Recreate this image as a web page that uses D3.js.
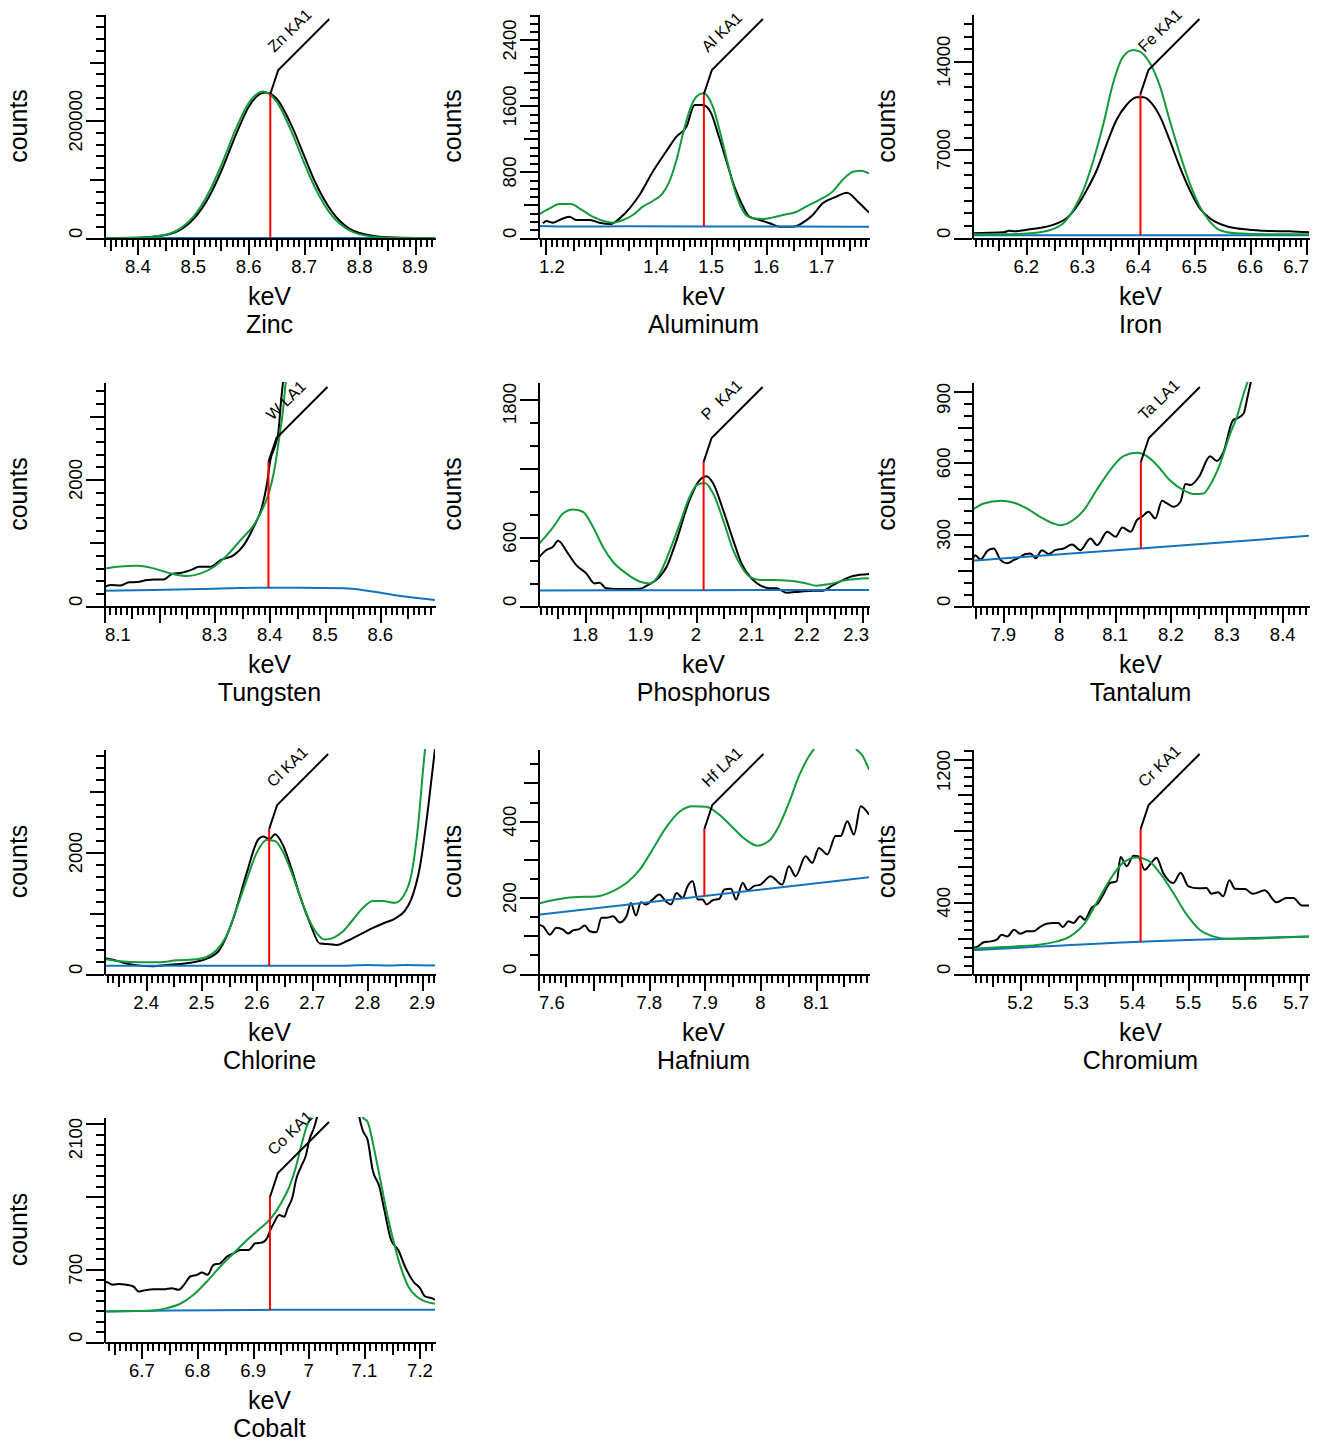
<!DOCTYPE html>
<html>
<head>
<meta charset="utf-8">
<script src="https://cdn.jsdelivr.net/npm/d3@7"></script>
<style>
  body { margin: 0; background: #fff; }
  svg text { font-family: "Liberation Sans", Arial, sans-serif; fill: #000; white-space: pre; }
</style>
</head>
<body>
<svg id="chart" width="1326" height="1452"></svg>
<script>
// EDS peak fits, one panel per element

const elements = ["Zinc", "Aluminum", "Iron", "Tungsten", "Phosphorus", "Tantalum",
  "Chlorine", "Hafnium", "Chromium", "Cobalt"];
const lineLabels = ["Zn KA1", "Al KA1", "Fe KA1", "W LA1", "P  KA1", "Ta LA1",
  "Cl KA1", "Hf LA1", "Cr KA1", "Co KA1"];
const lineEnergies = [8.6389, 1.4867, 6.4039, 8.3976, 2.0137, 8.1461, 2.6224, 7.899, 5.4147, 6.9303];

// axis ranges
const keVRanges = [[8.339, 8.936], [1.186, 1.786], [6.103, 6.705], [8.1, 8.699], [1.715, 2.312],
  [7.844, 8.447], [2.324, 2.922], [7.6, 8.195], [5.114, 5.715], [6.632, 7.227]];
const countMax = [382000, 2715, 17750, 3542, 1954, 939, 3708, 589, 1256, 2164];
const yMajorSteps = [200000, 800, 7000, 2000, 600, 300, 2000, 200, 400, 700];
const yMinorSteps = [20000, 100, 1000, 200, 200, 50, 200, 50, 50, 100];

// tick labels
const xTickLabels = [
  [8.4, 8.5, 8.6, 8.7, 8.8, 8.9], [1.2, 1.4, 1.5, 1.6, 1.7], [6.2, 6.3, 6.4, 6.5, 6.6, 6.7],
  [8.1, 8.3, 8.4, 8.5, 8.6], [1.8, 1.9, 2, 2.1, 2.2, 2.3], [7.9, 8, 8.1, 8.2, 8.3, 8.4],
  [2.4, 2.5, 2.6, 2.7, 2.8, 2.9], [7.6, 7.8, 7.9, 8, 8.1], [5.2, 5.3, 5.4, 5.5, 5.6, 5.7],
  [6.7, 6.8, 6.9, 7, 7.1, 7.2]];
const yTickLabels = [[0, 200000], [0, 800, 1600, 2400], [0, 7000, 14000], [0, 2000], [0, 600, 1800],
  [0, 300, 600, 900], [0, 2000], [0, 200, 400], [0, 400, 1200], [0, 700, 2100]];

// [keV, counts]
const znMeasured = [[8.339, 0], [8.4, 600], [8.45, 5000], [8.48, 16000], [8.5, 32000], [8.53, 73000],
  [8.55, 113000], [8.58, 183000], [8.6, 224000], [8.63, 248000], [8.65, 238000], [8.68, 186000],
  [8.7, 140000], [8.72, 95000], [8.75, 45000], [8.78, 17000], [8.8, 8500], [8.85, 1200], [8.9, 0], [8.936, 0]];
const znFit = [[8.339, 0], [8.4, 500], [8.45, 5700], [8.48, 18500], [8.5, 36000], [8.53, 81000],
  [8.55, 123000], [8.58, 193000], [8.6, 230000], [8.626, 250000], [8.65, 233000], [8.68, 175000],
  [8.7, 128000], [8.72, 85000], [8.75, 38000], [8.78, 13800], [8.8, 6200], [8.85, 600], [8.9, 0], [8.936, 0]];
const znBackground = [[8.339, 0], [8.936, 0]];

const alMeasured = [[1.195, 178], [1.201, 206], [1.213, 186], [1.225, 218], [1.243, 259], [1.255, 218],
  [1.279, 218], [1.297, 186], [1.319, 170], [1.334, 238], [1.352, 360], [1.37, 521], [1.394, 804],
  [1.418, 1046], [1.437, 1228], [1.455, 1349], [1.47, 1612], [1.485, 1612], [1.5, 1511], [1.512, 1269],
  [1.527, 945], [1.542, 622], [1.555, 420], [1.569, 259], [1.588, 218], [1.606, 178], [1.624, 137],
  [1.648, 137], [1.666, 186], [1.684, 279], [1.702, 420], [1.727, 501], [1.746, 549], [1.766, 440], [1.786, 307]];
const alFit = [[1.186, 279], [1.207, 360], [1.225, 412], [1.246, 412], [1.261, 360], [1.285, 259],
  [1.31, 198], [1.322, 186], [1.34, 218], [1.358, 279], [1.376, 380], [1.394, 448], [1.412, 541],
  [1.424, 683], [1.437, 945], [1.449, 1269], [1.461, 1551], [1.473, 1713], [1.485, 1753], [1.494, 1713],
  [1.503, 1592], [1.515, 1309], [1.527, 986], [1.539, 663], [1.551, 420], [1.563, 279], [1.576, 238],
  [1.594, 230], [1.612, 250], [1.636, 287], [1.654, 315], [1.672, 380], [1.696, 461], [1.72, 562],
  [1.738, 703], [1.757, 804], [1.772, 816], [1.786, 784]];
const alBackground = [[1.186, 145], [1.25, 138], [1.35, 142], [1.5, 140], [1.65, 138], [1.786, 135]];

const feMeasured = [[6.103, 370], [6.16, 449], [6.169, 581], [6.18, 530], [6.207, 687], [6.231, 845],
  [6.255, 1162], [6.272, 1559], [6.29, 2483], [6.308, 3804], [6.326, 5390], [6.344, 7503], [6.361, 9353],
  [6.379, 10542], [6.397, 11149], [6.409, 11149], [6.424, 10674], [6.439, 9617], [6.456, 7767],
  [6.474, 5654], [6.492, 3804], [6.51, 2351], [6.528, 1559], [6.551, 1030], [6.575, 766], [6.605, 634],
  [6.634, 555], [6.67, 528], [6.705, 449]];
const feFit = [[6.103, 290], [6.16, 290], [6.207, 370], [6.243, 634], [6.266, 1162], [6.284, 2219],
  [6.302, 3804], [6.32, 6182], [6.338, 9088], [6.355, 12259], [6.373, 14372], [6.391, 14900],
  [6.403, 14770], [6.421, 13844], [6.439, 11995], [6.456, 9353], [6.474, 6711], [6.492, 4333],
  [6.51, 2484], [6.528, 1295], [6.545, 634], [6.575, 370], [6.634, 290], [6.705, 290]];
const feBackground = [[6.103, 211], [6.705, 211]];

const wMeasured = [[8.1, 295], [8.112, 332], [8.13, 326], [8.145, 374], [8.16, 379], [8.178, 411],
  [8.19, 421], [8.208, 421], [8.223, 505], [8.241, 526], [8.26, 579], [8.272, 621], [8.293, 621],
  [8.311, 726], [8.335, 805], [8.353, 963], [8.371, 1253], [8.386, 1568], [8.395, 1937], [8.401, 2305],
  [8.41, 2542], [8.416, 2779], [8.42, 3200], [8.424, 3542], [8.43, 3900]];
const wFit = [[8.1, 589], [8.124, 621], [8.16, 637], [8.19, 595], [8.22, 516], [8.251, 474], [8.275, 516],
  [8.299, 621], [8.323, 805], [8.347, 1042], [8.371, 1279], [8.386, 1516], [8.398, 1779], [8.407, 2095],
  [8.413, 2410], [8.419, 2779], [8.424, 3095], [8.428, 3463], [8.435, 3900]];
const wBackground = [[8.1, 242], [8.19, 253], [8.275, 268], [8.371, 289], [8.455, 289], [8.534, 279],
  [8.576, 242], [8.636, 158], [8.699, 95]];

const pMeasured = [[1.715, 415], [1.73, 488], [1.742, 517], [1.751, 569], [1.769, 459], [1.784, 357],
  [1.802, 285], [1.817, 197], [1.826, 203], [1.838, 154], [1.856, 148], [1.88, 148], [1.899, 151],
  [1.913, 183], [1.928, 226], [1.947, 343], [1.965, 575], [1.986, 894], [2.004, 1083], [2.019, 1132],
  [2.031, 1068], [2.049, 836], [2.067, 575], [2.082, 372], [2.1, 241], [2.115, 183], [2.133, 154],
  [2.145, 154], [2.163, 116], [2.187, 125], [2.211, 134], [2.229, 134], [2.247, 183], [2.265, 226],
  [2.283, 261], [2.312, 279]];
const pFit = [[1.715, 531], [1.73, 613], [1.745, 705], [1.76, 807], [1.778, 842], [1.796, 822],
  [1.814, 691], [1.832, 517], [1.85, 386], [1.874, 285], [1.899, 212], [1.917, 197], [1.935, 285],
  [1.953, 488], [1.971, 720], [1.986, 923], [2.001, 1054], [2.016, 1074], [2.031, 981], [2.049, 749],
  [2.067, 488], [2.082, 343], [2.097, 255], [2.115, 226], [2.139, 226], [2.169, 221], [2.199, 197],
  [2.217, 177], [2.241, 192], [2.271, 226], [2.312, 241]];
const pBackground = [[1.715, 135], [2.0, 138], [2.312, 139]];

const taMeasured = [[7.844, 188], [7.85, 213], [7.859, 195], [7.872, 232], [7.883, 241], [7.895, 193],
  [7.907, 179], [7.919, 193], [7.931, 206], [7.94, 218], [7.949, 220], [7.958, 200], [7.969, 234],
  [7.981, 218], [7.993, 234], [8.008, 241], [8.023, 258], [8.038, 234], [8.056, 283], [8.068, 255],
  [8.086, 311], [8.101, 290], [8.113, 329], [8.128, 311], [8.139, 360], [8.148, 374], [8.16, 395],
  [8.172, 367], [8.184, 441], [8.193, 430], [8.205, 416], [8.217, 437], [8.226, 511], [8.235, 507],
  [8.25, 541], [8.27, 628], [8.282, 608], [8.294, 646], [8.311, 779], [8.318, 786], [8.33, 807],
  [8.337, 876], [8.343, 939], [8.35, 1000]];
const taFit = [[7.844, 402], [7.865, 430], [7.895, 441], [7.919, 433], [7.942, 409], [7.966, 374],
  [7.99, 346], [8.002, 339], [8.02, 353], [8.044, 402], [8.067, 486], [8.091, 569], [8.115, 628],
  [8.139, 642], [8.157, 628], [8.175, 590], [8.198, 527], [8.222, 486], [8.243, 469], [8.258, 472],
  [8.27, 507], [8.288, 597], [8.306, 723], [8.318, 793], [8.33, 890], [8.337, 939], [8.345, 1000]];
const taBackground = [[7.844, 190], [8.145, 241], [8.447, 294]];

const clMeasured = [[2.324, 264], [2.34, 237], [2.365, 171], [2.389, 138], [2.413, 127], [2.437, 149],
  [2.461, 165], [2.485, 193], [2.509, 248], [2.533, 402], [2.557, 898], [2.582, 1670], [2.603, 2221],
  [2.612, 2265], [2.623, 2221], [2.633, 2303], [2.648, 2110], [2.663, 1725], [2.678, 1284], [2.696, 843],
  [2.714, 501], [2.732, 490], [2.744, 479], [2.762, 540], [2.786, 650], [2.81, 760], [2.828, 832],
  [2.852, 926], [2.867, 1036], [2.879, 1229], [2.895, 1780], [2.91, 2772], [2.922, 3708]];
const clFit = [[2.324, 248], [2.353, 209], [2.389, 193], [2.425, 193], [2.455, 226], [2.485, 237],
  [2.509, 281], [2.527, 391], [2.545, 623], [2.563, 1063], [2.582, 1559], [2.6, 2000], [2.618, 2209],
  [2.633, 2193], [2.648, 2000], [2.663, 1670], [2.678, 1284], [2.693, 926], [2.708, 678], [2.723, 568],
  [2.738, 595], [2.756, 705], [2.774, 898], [2.792, 1091], [2.81, 1201], [2.828, 1201], [2.85, 1174],
  [2.865, 1284], [2.88, 1670], [2.892, 2496], [2.9, 3323], [2.904, 3708], [2.91, 4200]];
const clBackground = [[2.324, 138], [2.76, 138], [2.8, 150], [2.84, 142], [2.87, 150], [2.922, 140]];

const hfMeasured = [[7.6, 129], [7.609, 125], [7.621, 103], [7.633, 121], [7.645, 116], [7.654, 106],
  [7.663, 114], [7.675, 118], [7.684, 127], [7.693, 112], [7.705, 109], [7.714, 147], [7.723, 147],
  [7.735, 151], [7.747, 135], [7.759, 151], [7.767, 186], [7.776, 153], [7.785, 188], [7.794, 182],
  [7.806, 195], [7.818, 208], [7.83, 190], [7.839, 182], [7.849, 212], [7.86, 199], [7.869, 230],
  [7.878, 243], [7.887, 195], [7.896, 195], [7.903, 182], [7.914, 193], [7.926, 197], [7.935, 221],
  [7.947, 223], [7.956, 195], [7.968, 238], [7.977, 219], [7.988, 230], [8.0, 234], [8.018, 256],
  [8.039, 234], [8.051, 282], [8.063, 256], [8.081, 308], [8.093, 291], [8.105, 330], [8.12, 313],
  [8.135, 361], [8.144, 361], [8.156, 400], [8.168, 365], [8.18, 439], [8.195, 417]];
const hfFit = [[7.6, 184], [7.633, 195], [7.663, 201], [7.705, 203], [7.735, 217], [7.759, 238],
  [7.783, 273], [7.806, 326], [7.83, 383], [7.854, 424], [7.878, 439], [7.902, 438], [7.926, 417],
  [7.949, 385], [7.973, 352], [7.994, 336], [8.015, 348], [8.033, 387], [8.051, 448], [8.069, 518],
  [8.087, 570], [8.096, 589], [8.12, 660], [8.135, 670], [8.15, 650], [8.172, 589], [8.184, 570], [8.195, 535]];
const hfBackground = [[7.6, 155], [8.195, 253]];

const crMeasured = [[5.114, 145], [5.123, 151], [5.135, 177], [5.147, 182], [5.158, 192], [5.167, 219],
  [5.177, 210], [5.189, 247], [5.2, 225], [5.212, 238], [5.223, 238], [5.235, 262], [5.247, 281],
  [5.259, 285], [5.268, 285], [5.276, 262], [5.286, 294], [5.295, 285], [5.307, 322], [5.315, 303],
  [5.327, 368], [5.339, 396], [5.348, 443], [5.36, 508], [5.372, 517], [5.379, 653], [5.39, 602],
  [5.402, 660], [5.41, 657], [5.422, 582], [5.434, 621], [5.443, 649], [5.455, 564], [5.473, 508],
  [5.486, 565], [5.5, 489], [5.517, 478], [5.532, 480], [5.541, 448], [5.553, 456], [5.562, 433],
  [5.573, 523], [5.583, 476], [5.601, 474], [5.615, 448], [5.636, 467], [5.657, 400], [5.675, 424],
  [5.687, 424], [5.702, 383], [5.715, 383]];
const crFit = [[5.114, 140], [5.17, 151], [5.23, 162], [5.265, 182], [5.289, 210], [5.313, 275],
  [5.336, 396], [5.36, 526], [5.384, 623], [5.408, 651], [5.428, 634], [5.449, 564], [5.473, 452],
  [5.497, 331], [5.52, 247], [5.544, 210], [5.568, 197], [5.615, 197], [5.645, 201], [5.715, 210]];
const crBackground = [[5.114, 132], [5.414, 180], [5.715, 209]];

const coMeasured = [[6.632, 582], [6.639, 572], [6.648, 550], [6.66, 559], [6.672, 550], [6.685, 534],
  [6.694, 486], [6.703, 495], [6.721, 508], [6.739, 508], [6.754, 518], [6.766, 502], [6.778, 566],
  [6.787, 630], [6.799, 646], [6.808, 668], [6.818, 646], [6.829, 742], [6.841, 757], [6.853, 821],
  [6.865, 853], [6.877, 885], [6.892, 885], [6.904, 949], [6.916, 956], [6.925, 997], [6.931, 1077],
  [6.937, 1141], [6.947, 1221], [6.956, 1205], [6.962, 1285], [6.971, 1397], [6.977, 1556], [6.986, 1684],
  [6.995, 1796], [7.001, 1940], [7.01, 2068], [7.015, 2164], [7.04, 3000], [7.06, 3100], [7.08, 2700],
  [7.091, 2164], [7.097, 2036], [7.106, 1940], [7.115, 1652], [7.127, 1493], [7.136, 1269], [7.148, 981],
  [7.161, 885], [7.173, 726], [7.188, 582], [7.2, 518], [7.209, 438], [7.221, 422], [7.227, 406]];
const coFit = [[6.632, 294], [6.685, 297], [6.721, 304], [6.745, 326], [6.769, 368], [6.793, 454],
  [6.817, 582], [6.841, 726], [6.865, 853], [6.889, 981], [6.913, 1093], [6.932, 1189], [6.95, 1333],
  [6.965, 1493], [6.977, 1684], [6.986, 1876], [6.995, 2052], [7.003, 2164], [7.03, 2900], [7.05, 3200],
  [7.07, 2900], [7.097, 2164], [7.106, 2116], [7.118, 1844], [7.13, 1524], [7.142, 1205], [7.155, 917],
  [7.167, 694], [7.179, 534], [7.194, 438], [7.209, 390], [7.227, 368]];
const coBackground = [[6.632, 294], [6.75, 304], [6.94, 310], [7.227, 310]];

const measured = [znMeasured, alMeasured, feMeasured, wMeasured, pMeasured, taMeasured,
  clMeasured, hfMeasured, crMeasured, coMeasured];
const fits = [znFit, alFit, feFit, wFit, pFit, taFit, clFit, hfFit, crFit, coFit];
const backgrounds = [znBackground, alBackground, feBackground, wBackground, pBackground,
  taBackground, clBackground, hfBackground, crBackground, coBackground];

// Page layout
const colLeft = [104, 538, 972];
const colWidth = [331, 331, 337];
const rowTop = [14, 382, 749, 1117];
const rowBottom = [238, 606, 974, 1342];

const colors = { measured: "#000000", fit: "#139a3b", background: "#1273bd", marker: "#ff0000" };

const svg = d3.select("#chart");

elements.forEach((name, i) => renderPanel(svg, i));

// linear lookup inside a series
function valueAt(series, e) {
  const i = d3.bisector(d => d[0]).left(series, e);
  if (i <= 0) return series[0][1];
  if (i >= series.length) return series[series.length - 1][1];
  const a = series[i - 1], b = series[i];
  return a[1] + (b[1] - a[1]) * (e - a[0]) / (b[0] - a[0]);
}

function renderPanel(svg, i) {
  const col = i % 3, row = Math.floor(i / 3);
  const x0 = colLeft[col], x1 = x0 + colWidth[col];
  const yTop = rowTop[row], yBot = rowBottom[row];
  const dom = keVRanges[i];

  const x = d3.scaleLinear().domain(dom).range([x0, x1]);
  const y = d3.scaleLinear().domain([0, countMax[i]]).range([yBot, yTop]);

  const g = svg.append("g").attr("class", "panel");

  g.append("clipPath").attr("id", "clip" + i)
    .append("rect")
    .attr("x", x0).attr("y", yTop)
    .attr("width", x1 - x0).attr("height", yBot - yTop);

  const line = d3.line()
    .x(d => x(d[0]))
    .y(d => y(d[1]))
    .curve(d3.curveMonotoneX);

  const plot = g.append("g").attr("clip-path", `url(#clip${i})`);

  plot.append("path").datum(measured[i])
    .attr("d", line).attr("fill", "none")
    .attr("stroke", colors.measured).attr("stroke-width", 2);

  plot.append("path").datum(backgrounds[i])
    .attr("d", line).attr("fill", "none")
    .attr("stroke", colors.background).attr("stroke-width", 2);

  plot.append("path").datum(fits[i])
    .attr("d", line).attr("fill", "none")
    .attr("stroke", colors.fit).attr("stroke-width", 2);

  // peak marker + label leader
  const e = lineEnergies[i];
  const xr = x(e);
  const yMark = yTop + 80;

  g.append("line")
    .attr("x1", xr).attr("x2", xr)
    .attr("y1", y(valueAt(backgrounds[i], e))).attr("y2", yMark)
    .attr("stroke", colors.marker).attr("stroke-width", 2);

  g.append("polyline")
    .attr("points", [[xr, yMark], [xr + 8, yMark - 24], [xr + 59, yTop + 5]].map(p => p.join(",")).join(" "))
    .attr("fill", "none").attr("stroke", "#000").attr("stroke-width", 2);

  g.append("text")
    .attr("transform", `translate(${xr + 4},${yTop + 39}) rotate(-44)`)
    .attr("font-size", 16)
    .text(lineLabels[i]);

  // x axis: minor 0.01, medium 0.05, major 0.1
  const cents = d3.range(Math.ceil(dom[0] * 100 - 1e-6), Math.floor(dom[1] * 100 + 1e-6) + 1);
  const xMinor = cents.filter(k => k % 5 !== 0).map(k => k / 100);
  const xMid = cents.filter(k => k % 10 === 5).map(k => k / 100);
  const xMajor = cents.filter(k => k % 10 === 0).map(k => k / 100);

  [[xMinor, 9], [xMid, 13], [xMajor, 17]].forEach(([vals, size], j) => {
    const ax = g.append("g")
      .attr("transform", `translate(0,${yBot})`)
      .call(d3.axisBottom(x).tickValues(vals).tickSize(size).tickSizeOuter(0).tickFormat(""));
    if (j > 0) ax.select(".domain").remove();
    ax.selectAll("line,path").attr("stroke-width", 2).attr("shape-rendering", "crispEdges");
  });

  xTickLabels[i].forEach(v => {
    const t = g.append("text")
      .attr("font-size", 18.5)
      .attr("text-anchor", "middle")
      .attr("y", yBot + 35)
      .text(String(v));
    const w = t.node().getComputedTextLength();
    let cx = x(v);
    cx = Math.max(x0 + 1 + w / 2, Math.min(x1 - w / 2, cx));
    t.attr("x", cx);
  });

  // y axis
  const M = yMajorSteps[i], m = yMinorSteps[i];
  const ratio = Math.round(M / m);
  const ks = d3.range(0, Math.floor(countMax[i] / m + 1e-6) + 1);
  const hasMid = ratio % 2 === 0;
  const yMajor = ks.filter(k => k % ratio === 0).map(k => k * m);
  const yMid = ks.filter(k => hasMid && k % ratio === ratio / 2).map(k => k * m);
  const yMinor = ks.filter(k => k % ratio !== 0 && !(hasMid && k % ratio === ratio / 2)).map(k => k * m);

  [[yMinor, 8], [yMid, 14], [yMajor, 18]].forEach(([vals, size], j) => {
    const ax = g.append("g")
      .attr("transform", `translate(${x0},0)`)
      .call(d3.axisLeft(y).tickValues(vals).tickSize(size).tickSizeOuter(0).tickFormat(""));
    if (j > 0) ax.select(".domain").remove();
    ax.selectAll("line,path").attr("stroke-width", 2).attr("shape-rendering", "crispEdges");
  });

  yTickLabels[i].forEach(v => {
    const t = g.append("text")
      .attr("font-size", 18.5)
      .attr("text-anchor", "middle")
      .text(String(v));
    const w = t.node().getComputedTextLength();
    let cy = y(v);
    cy = Math.max(yTop + 1 + w / 2, Math.min(yBot - w / 2, cy));
    t.attr("transform", `translate(${x0 - 22},${cy}) rotate(-90)`);
  });

  // axis titles
  const cx = (x0 + x1) / 2;
  g.append("text")
    .attr("font-size", 25).attr("text-anchor", "middle")
    .attr("x", cx).attr("y", yBot + 67)
    .text("keV");

  g.append("text")
    .attr("font-size", 25).attr("text-anchor", "middle")
    .attr("x", cx).attr("y", yBot + 95)
    .text(elements[i]);

  g.append("text")
    .attr("font-size", 25).attr("text-anchor", "middle")
    .attr("transform", `translate(${x0 - 77},${(yTop + yBot) / 2}) rotate(-90)`)
    .text("counts");
}
</script>
</body>
</html>
